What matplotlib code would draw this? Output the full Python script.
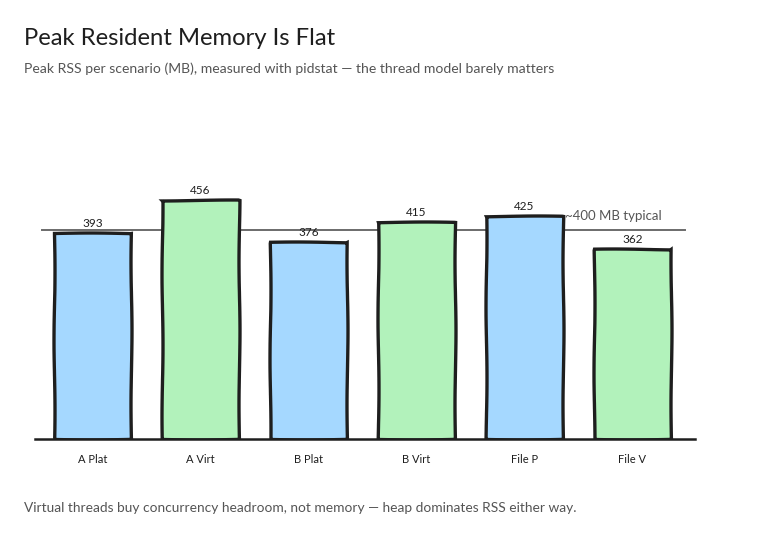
import matplotlib
matplotlib.use("Agg")
import matplotlib.pyplot as plt
import numpy as np

categories = ["A Plat", "A Virt", "B Plat", "B Virt", "File P", "File V"]
rss_mb = [393, 456, 376, 415, 425, 362]
typical_mb = 400
typical_label = "~400 MB typical"

title = "Peak Resident Memory Is Flat"
subtitle = "Peak RSS per scenario (MB), measured with pidstat \u2014 the thread model barely matters"
footnote = "Virtual threads buy concurrency headroom, not memory \u2014 heap dominates RSS either way."

plt.rcParams['font.family'] = ['Lato', 'DejaVu Sans']

fig = plt.figure(figsize=(7.62, 5.43), dpi=100)
ax = fig.add_axes([0.046, 0.1915, 0.866, 0.569])

colors = ["#a5d8ff" if i % 2 == 0 else "#b2f2bb" for i in range(len(categories))]
x = np.arange(len(categories))

ax.axhline(typical_mb, xmin=0.01, xmax=0.985, color="#6b6b6b", lw=1.4, zorder=1)

bars = ax.bar(x, rss_mb, width=0.715, color=colors, edgecolor="#1e1e1e",
              linewidth=2.4, zorder=2)
for b in bars:
    b.set_sketch_params(scale=0.5, length=150, randomness=1.5)

for xi, v in zip(x, rss_mb):
    ax.text(xi, v + 8, str(v), ha="center", va="bottom", fontsize=8.5, color="#1e1e1e", zorder=3)

ax.text(4.38, typical_mb + 25, typical_label, ha="left", va="center", fontsize=9.5, color="#555555", zorder=3)

ax.set_xlim(-0.53, 5.58)
ax.set_ylim(0, 590)
ax.set_xticks(x)
ax.set_xticklabels(categories, fontsize=8, color="#1e1e1e")
ax.tick_params(axis="x", length=0, pad=11)
ax.set_yticks([])
for s in ["top", "right", "left"]:
    ax.spines[s].set_visible(False)
ax.spines["bottom"].set_color("#1e1e1e")
ax.spines["bottom"].set_linewidth(1.8)
ax.spines["bottom"].set_zorder(4)

fig.text(0.031, 0.93, title, fontsize=17.2, color="#1e1e1e", ha="left", va="center")
fig.text(0.031, 0.874, subtitle, fontsize=10.05, color="#555555", ha="left", va="center")
fig.text(0.031, 0.064, footnote, fontsize=9.95, color="#555555", ha="left", va="center")

fig.savefig("out.png", dpi=100, facecolor="white")
